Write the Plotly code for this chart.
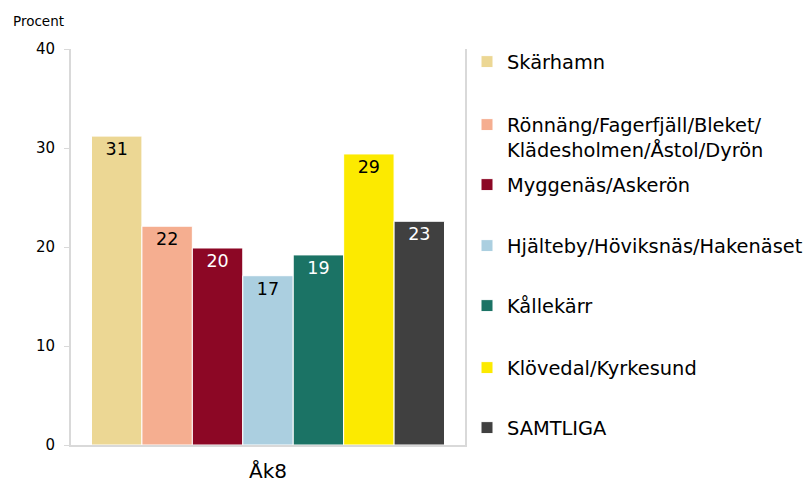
import plotly.graph_objects as go

category = ["Åk8"]
series_names = [
    "Skärhamn",
    "Rönnäng/Fagerfjäll/Bleket/<br>Klädesholmen/Åstol/Dyrön",
    "Myggenäs/Askerön",
    "Hjälteby/Höviksnäs/Hakenäset",
    "Kållekärr",
    "Klövedal/Kyrkesund",
    "SAMTLIGA",
]
values = [31.2, 22.1, 19.9, 17.1, 19.2, 29.4, 22.6]
colors = ["#ECD794", "#F5AE90", "#8C0725", "#ABCFE0", "#1B7365", "#FCEA00", "#404040"]
label_colors = ["#000000", "#000000", "#FFFFFF", "#000000", "#FFFFFF", "#000000", "#FFFFFF"]
y_ticks = [0, 10, 20, 30, 40]

FONT = "DejaVu Sans, Verdana, sans-serif"
W, H = 807, 483
ML, MR, MT, MB = 71, 342, 49, 38
plot_w = W - ML - MR
plot_h = H - MT - MB
# legend item centres (pixels from top)
legend_y_px = [62, 125, 185, 246, 306, 368, 428]
LEGEND_LEFT_PX = 467

fig = go.Figure()
for i, (name, v) in enumerate(zip(series_names, values)):
    lg = "legend" if i == 0 else f"legend{i+1}"
    fig.add_trace(go.Bar(
        x=category, y=[v], name=name,
        marker=dict(color=colors[i], line=dict(color="white", width=1)),
        text=[f"{v:.0f}"], texttemplate="%{text}",
        textposition="inside", insidetextanchor="end",
        textfont=dict(color=label_colors[i], size=17.5, family=FONT),
        legend=lg, hoverinfo="skip",
    ))

layout_legends = {}
for i, ypx in enumerate(legend_y_px):
    key = "legend" if i == 0 else f"legend{i+1}"
    layout_legends[key] = dict(
        x=(LEGEND_LEFT_PX - ML) / plot_w, xanchor="left",
        y=(H - MB - ypx) / plot_h, yanchor="middle",
        valign="top",
        font=dict(size=19.4, family=FONT, color="#000000"),
        bgcolor="rgba(0,0,0,0)", itemwidth=30,
    )
# the two-line entry: anchor its top so the first line sits at its position
layout_legends["legend2"]["yanchor"] = "top"
layout_legends["legend2"]["y"] = (H - MB - (legend_y_px[1] - 19.5)) / plot_h

fig.update_layout(
    width=W, height=H,
    margin=dict(l=ML, r=MR, t=MT, b=MB, pad=0, autoexpand=False),
    paper_bgcolor="white", plot_bgcolor="white",
    barmode="group", bargap=0.104, bargroupgap=0,
    font=dict(family=FONT, color="#000000"),
    showlegend=True,
    xaxis=dict(
        automargin=False,
        showline=True, linecolor="#D9D9D9", linewidth=2, mirror=False,
        ticks="", tickfont=dict(size=20, family=FONT, color="#000000"),
        ticklabelstandoff=7,
        showgrid=False, zeroline=False,
    ),
    yaxis=dict(
        automargin=False,
        range=[0, 40], tickvals=y_ticks, showgrid=False, zeroline=False,
        showline=True, linecolor="#D9D9D9", linewidth=2,
        ticks="outside", ticklen=5, tickcolor="#D9D9D9", tickwidth=1,
        ticklabelstandoff=6,
        tickfont=dict(size=15, family=FONT, color="#000000"),
    ),
    yaxis2=dict(automargin=False, overlaying="y", side="right", range=[0, 40],
                showline=True, linecolor="#D9D9D9", linewidth=2,
                showticklabels=False, ticks="", showgrid=False, zeroline=False),
    annotations=[dict(
        text="Procent", xref="paper", yref="paper",
        x=-(ML - 11) / plot_w, y=(H - MB - 21) / plot_h,
        xanchor="left", yanchor="middle", showarrow=False,
        font=dict(size=13.5, family=FONT, color="#000000"),
    )],
    **layout_legends,
)
# invisible trace on yaxis2 so the right border line renders
fig.add_trace(go.Scatter(x=category, y=[None], yaxis="y2", showlegend=False,
                         hoverinfo="skip", mode="markers"))

fig.write_html("out.html", config={"displayModeBar": False},
               post_script="document.body.style.margin='0';")
